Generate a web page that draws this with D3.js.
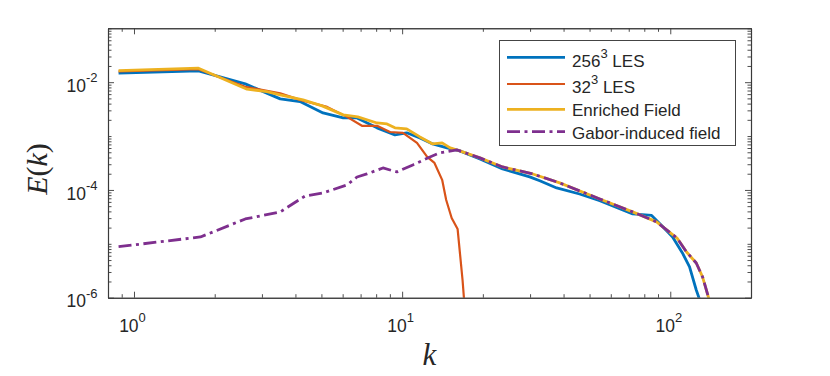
<!DOCTYPE html>
<html>
<head>
<meta charset="utf-8">
<script src="https://cdn.jsdelivr.net/npm/d3@7"></script>
<style>
  body { margin: 0; background: #fff; }
  text { font-family: "Liberation Sans", Arial, Helvetica, sans-serif; fill: #262626; }
</style>
</head>
<body>
<script>
// ---- data ----
const kLES256 = [0.876, 1.74, 2.60, 3.51, 4.16, 5.07, 6.03, 6.79, 8.06, 9.40, 10.4, 11.65, 13.0, 14.7, 16.4, 19.5, 23.7, 29.9, 32.6, 37.7, 45.9, 54.6, 72.4, 85.2, 93.6, 102, 111, 118, 125, 128, 129];
const eLES256 = [0.0147, 0.0162, 0.0093, 0.0049, 0.00437, 0.00269, 0.00217, 0.00217, 0.00142, 0.00105, 0.00115, 0.000925, 0.000715, 0.000602, 0.00053, 0.000377, 0.000245, 0.000175, 0.000148, 0.000109, 0.000084, 0.000063, 0.0000358, 0.0000336, 0.000021, 0.0000134, 0.00000676, 0.00000372, 0.00000139, 0.00000099, 0.00000059];

const kLES32 = [0.876, 1.74, 2.60, 3.51, 4.16, 5.25, 6.23, 7.08, 8.06, 9.01, 10.07, 11.36, 12.4, 13.2, 14.1, 14.6, 15.3, 16.1, 16.8, 17.0, 17.1];
const eLES32 = [0.0159, 0.0174, 0.0082, 0.0062, 0.00469, 0.00348, 0.00227, 0.00155, 0.00155, 0.00119, 0.00115, 0.000747, 0.00041, 0.000317, 0.000154, 0.000065, 0.0000302, 0.0000189, 0.00000213, 0.00000099, 0.00000039];

const kEnriched = [0.876, 1.74, 2.64, 3.13, 3.51, 4.27, 5.03, 6.03, 6.83, 8.06, 8.78, 9.40, 10.4, 11.65, 13.0, 14.1, 15.1, 16.4, 19.5, 23.7, 30.7, 38.7, 54.6, 72.4, 88.9, 96.9, 106, 115, 125, 132, 139, 141];
const eEnriched = [0.0164, 0.0182, 0.00741, 0.00669, 0.00581, 0.00469, 0.00363, 0.00247, 0.00227, 0.00175, 0.00168, 0.00142, 0.00136, 0.000964, 0.000715, 0.000747, 0.000602, 0.00053, 0.000393, 0.000267, 0.000198, 0.000135, 0.0000681, 0.0000391, 0.0000255, 0.0000181, 0.0000128, 0.00000705, 0.0000044, 0.00000242, 0.00000099, 0.00000059];

const kGabor = [0.876, 1.77, 2.60, 3.51, 4.35, 5.07, 6.23, 6.79, 7.39, 8.48, 9.56, 10.96, 12.7, 13.8, 16.0, 19.5, 23.7, 30.7, 38.7, 54.6, 72.4, 88.9, 96.9, 106, 115, 125, 132, 139, 141];
const eGabor = [8.85e-6, 1.34e-5, 2.89e-5, 3.91e-5, 7.74e-5, 8.79e-5, 1.24e-4, 1.74e-4, 1.98e-4, 2.56e-4, 2.16e-4, 2.91e-4, 4.10e-4, 4.87e-4, 5.53e-4, 3.93e-4, 2.67e-4, 1.98e-4, 1.35e-4, 6.81e-5, 3.91e-5, 2.55e-5, 1.81e-5, 1.28e-5, 7.05e-6, 4.40e-6, 2.42e-6, 9.9e-7, 5.9e-7];

const xDomain = [0.8, 200];
const yDomain = [1e-6, 1e-1];
const xTicks = [1, 10, 100];
const yTicks = [1e-6, 1e-4, 1e-2];

const series = [
    { name: "256", sup: "3", rest: " LES", k: kLES256, e: eLES256, color: "#0072BD", width: 2.8, dash: null },
    { name: "32", sup: "3", rest: " LES", k: kLES32, e: eLES32, color: "#D95319", width: 2.2, dash: null },
    { name: "Enriched Field", sup: "", rest: "", k: kEnriched, e: eEnriched, color: "#EDB120", width: 2.8, dash: null },
    { name: "Gabor-induced field", sup: "", rest: "", k: kGabor, e: eGabor, color: "#7E2F8E", width: 2.8, dash: "13,4.5,3,4.5" }
];

// ---- layout ----
const width = 830, height = 376;
const plot = { left: 108, right: 751, top: 28.3, bottom: 297.7 };

const svg = d3.select("body").append("svg")
    .attr("width", width).attr("height", height);

const x = d3.scaleLog().domain(xDomain).range([plot.left, plot.right]);
const y = d3.scaleLog().domain(yDomain).range([plot.bottom, plot.top]);

// minor ticks for a log domain
function minorTicks(dom, major) {
    const out = [];
    for (let p = Math.floor(Math.log10(dom[0])); p <= Math.ceil(Math.log10(dom[1])); p++) {
        for (let j = 1; j < 10; j++) {
            const v = +(j * Math.pow(10, p)).toPrecision(6);
            if (v >= dom[0] && v <= dom[1] && !major.some(m => Math.abs(m - v) / v < 1e-9)) out.push(v);
        }
    }
    return out;
}
const xMinor = minorTicks(xDomain, xTicks);
const yMinor = minorTicks(yDomain, yTicks);

// ---- lines ----
svg.append("clipPath").attr("id", "clip")
    .append("rect")
    .attr("x", plot.left).attr("y", plot.top)
    .attr("width", plot.right - plot.left).attr("height", plot.bottom - plot.top);

const line = d3.line().x(d => x(d[0])).y(d => y(d[1]));

const lines = svg.append("g").attr("clip-path", "url(#clip)");
series.forEach(s => {
    lines.append("path")
        .datum(d3.zip(s.k, s.e))
        .attr("d", line)
        .attr("fill", "none")
        .attr("stroke", s.color)
        .attr("stroke-width", s.width)
        .attr("stroke-linejoin", "round")
        .attr("stroke-dasharray", s.dash);
});

// ---- axes (box, ticks inside on all sides) ----
const axisColor = "#3a3a3a";
function addAxis(axisFn, scale, values, size, transform) {
    const g = svg.append("g")
        .attr("transform", transform)
        .attr("color", axisColor)
        .call(axisFn(scale).tickValues(values).tickSize(size).tickSizeOuter(0).tickFormat(""));
    g.select(".domain").attr("stroke-width", 1.1);
    g.selectAll(".tick line").attr("stroke-width", 0.9);
    return g;
}
[[xMinor, -3.5], [xTicks, -6]].forEach(([v, s]) => {
    addAxis(d3.axisBottom, x, v, s, `translate(0,${plot.bottom})`);
    addAxis(d3.axisTop, x, v, s, `translate(0,${plot.top})`);
});
[[yMinor, -3.5], [yTicks, -6]].forEach(([v, s]) => {
    addAxis(d3.axisLeft, y, v, s, `translate(${plot.left},0)`);
    addAxis(d3.axisRight, y, v, s, `translate(${plot.right},0)`);
});

// tick labels with exponents
yTicks.forEach(v => {
    const t = svg.append("text")
        .attr("x", 97.5).attr("y", y(v) + 9.7)
        .attr("text-anchor", "end")
        .style("font-size", "17.5px");
    t.append("tspan").text("10");
    t.append("tspan").attr("dy", -9.5).style("font-size", "13px").text(Math.round(Math.log10(v)));
});
xTicks.forEach(v => {
    const t = svg.append("text")
        .attr("x", x(v) - 1.5).attr("y", 332)
        .attr("text-anchor", "middle")
        .style("font-size", "17.5px");
    t.append("tspan").text("10");
    t.append("tspan").attr("dy", -10).style("font-size", "13px").text(Math.round(Math.log10(v)));
});

// axis labels
const serif = "'Liberation Serif', 'Times New Roman', serif";
svg.append("text")
    .attr("x", (plot.left + plot.right) / 2).attr("y", 365)
    .attr("text-anchor", "middle")
    .style("font-family", serif).style("font-size", "31px").style("font-style", "italic")
    .text("k");

const yl = svg.append("text")
    .attr("transform", "translate(47,169) rotate(-90)")
    .attr("text-anchor", "middle")
    .style("font-family", serif).style("font-size", "30px");
yl.append("tspan").style("font-style", "italic").text("E");
yl.append("tspan").text("(");
yl.append("tspan").style("font-style", "italic").text("k");
yl.append("tspan").text(")");

// ---- legend ----
const legend = svg.append("g");
legend.append("rect")
    .attr("x", 499.5).attr("y", 40.5).attr("width", 236).attr("height", 105)
    .attr("fill", "#fff").attr("stroke", "#444").attr("stroke-width", 1);

const rowLineY = [57.3, 84, 109.3, 131.7];
const rowTextY = [66.7, 93.3, 116, 139.3];
series.forEach((s, i) => {
    legend.append("line")
        .attr("x1", 507).attr("x2", 565)
        .attr("y1", rowLineY[i]).attr("y2", rowLineY[i])
        .attr("stroke", s.color).attr("stroke-width", s.width)
        .attr("stroke-dasharray", s.dash);
    const t = legend.append("text")
        .attr("x", 572).attr("y", rowTextY[i])
        .style("font-size", "17px");
    t.append("tspan").text(s.name);
    if (s.sup) {
        t.append("tspan").attr("dy", -9).style("font-size", "13px").text(s.sup);
        t.append("tspan").attr("dy", 9).text(s.rest);
    }
});
</script>
</body>
</html>
